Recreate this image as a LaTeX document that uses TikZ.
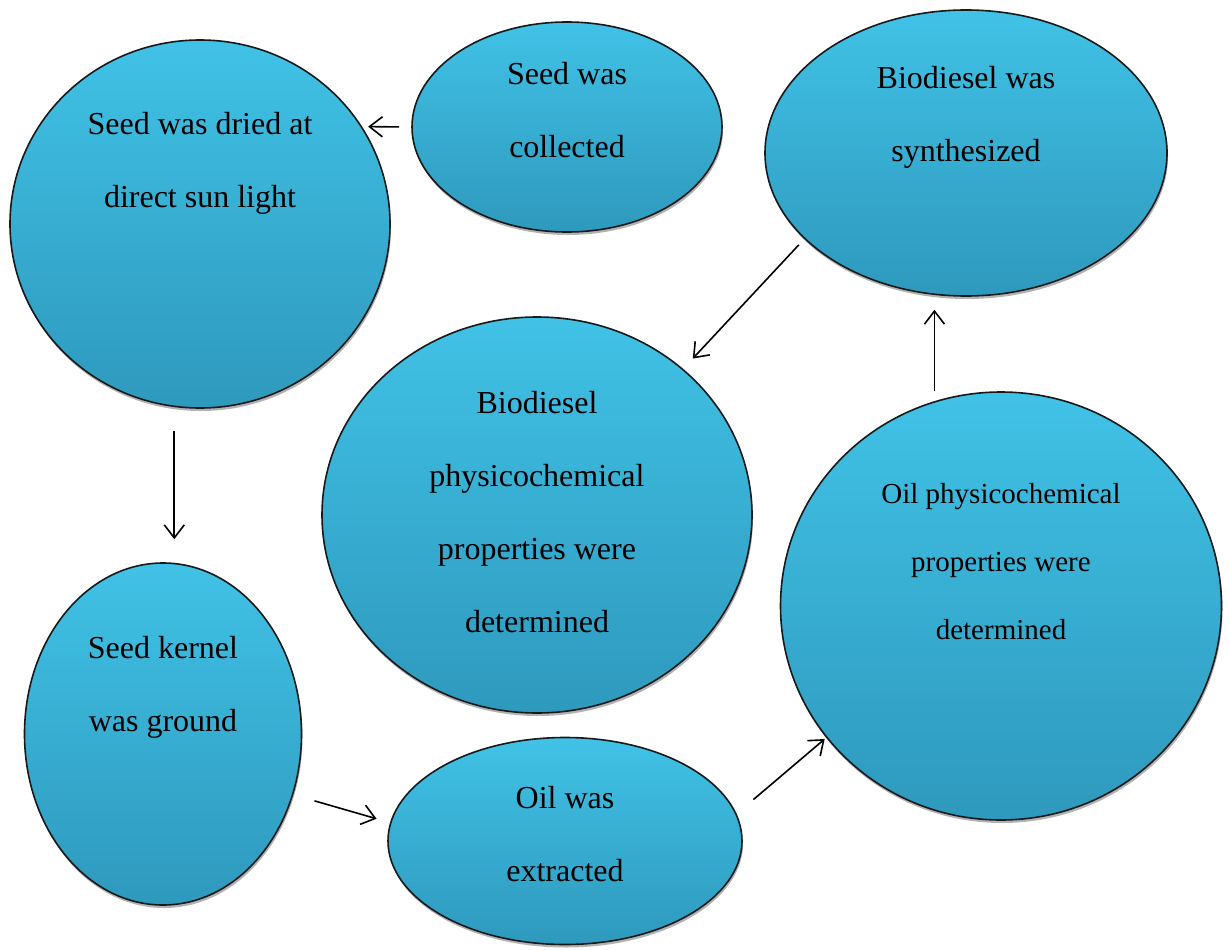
\documentclass[tikz,border=0pt]{standalone}
\usepackage{fontspec}
\setmainfont{Liberation Serif}
\usetikzlibrary{shapes.geometric}
\usetikzlibrary{arrows.meta}
\usetikzlibrary{shadows}
\definecolor{cyanA}{HTML}{40C2E6}
\definecolor{cyanB}{HTML}{2E99BD}
\tikzset{
  stage/.style={ellipse,draw=black!90,line width=1.6pt,inner sep=0pt,top color=cyanA,bottom color=cyanB,
    drop shadow={shadow xshift=1pt,shadow yshift=-3pt,fill=black,opacity=0.3}},
  txt/.style={align=center,font=\fontsize{32}{73}\selectfont},
  flow/.style={->,line width=1.6pt},
}
\begin{document}
\begin{tikzpicture}[x=1pt,y=-1pt,>={Straight Barb[length=13pt,width=20pt]}]
    \useasboundingbox (0,0) rectangle (1229,950);
    \node[stage,minimum width=380pt,minimum height=368pt] (dried) at (200,224) {};
    \node[txt] (dried-t) at (200,163) {Seed was dried at\\direct sun light};
    \node[stage,minimum width=310pt,minimum height=210pt] (collected) at (567,127) {};
    \node[txt] (collected-t) at (567,110) {Seed was\\collected};
    \node[stage,minimum width=402pt,minimum height=286pt] (synth) at (966,153) {};
    \node[txt] (synth-t) at (966,117) {Biodiesel was\\synthesized};
    \node[stage,minimum width=430pt,minimum height=396pt] (biophys) at (537,515) {};
    \node[txt] (biophys-t) at (537,512) {Biodiesel\\physicochemical\\properties were\\determined};
    \node[stage,minimum width=441pt,minimum height=428pt] (oilphys) at (1001,606) {};
    \node[txt,font=\fontsize{29}{68}\selectfont] (oilphys-t) at (1001,562) {Oil physicochemical\\properties were\\determined};
    \node[stage,minimum width=277pt,minimum height=342pt] (kernel) at (163,734) {};
    \node[txt] (kernel-t) at (163,687) {Seed kernel\\was ground};
    \node[stage,minimum width=354pt,minimum height=207pt] (extracted) at (565,841) {};
    \node[txt] (extracted-t) at (565,834) {Oil was\\extracted};
    \draw[flow,shorten <=12pt,shorten >=6pt] (collected.180) -- (dried.31);
    \draw[flow,shorten <=24pt,shorten >=23pt] (dried.262) -- (dried.262 |- kernel.north);
    \draw[flow,shorten <=22pt,shorten >=14pt] (kernel.-25) -- (extracted.174);
    \draw[flow,shorten <=22pt,shorten >=2pt] (extracted.9) -- (oilphys.217);
    \draw[flow,shorten <=10pt,shorten >=13pt] (oilphys.108) -- (oilphys.108 |- synth.south);
    \draw[flow,shorten <=8pt,shorten >=14pt] (synth.208) -- (biophys.45);
\end{tikzpicture}
\end{document}
